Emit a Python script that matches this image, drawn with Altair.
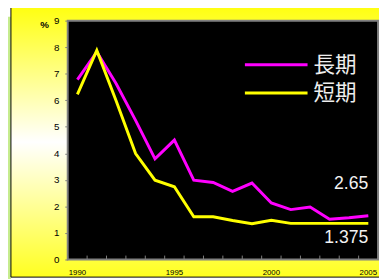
import altair as alt
import pandas as pd

years = list(range(1990, 2006))
long_rate = [6.78, 7.82, 6.62, 5.24, 3.79, 4.50, 2.99, 2.90, 2.57, 2.88, 2.13, 1.88, 1.98, 1.52, 1.57, 1.65]
short_rate = [6.22, 7.88, 5.97, 3.99, 2.99, 2.74, 1.61, 1.61, 1.47, 1.35, 1.48, 1.36, 1.36, 1.36, 1.36, 1.36]
series_names = ["長期", "短期"]
series_colors = ["#ff00ff", "#ffff00"]
y_ticks = list(range(0, 10))
x_label_years = [1990, 1995, 2000, 2005]
ann_text = ["2.65", "1.375"]
ann_year = [2005, 2005]
ann_y = [2.84, 0.81]

W, H = 317, 244

df = pd.DataFrame({
    "year": years * 2,
    "rate": long_rate + short_rate,
    "series": [series_names[0]] * len(years) + [series_names[1]] * len(years),
})
years_df = pd.DataFrame({"year": years})
ann_df = pd.DataFrame({"year": ann_year, "ypos": ann_y, "label": ann_text})
one = pd.DataFrame({"a": [0]})

x_scale = alt.Scale(type="band", domain=years, paddingInner=0, paddingOuter=0)
y_scale = alt.Scale(domain=[0, 9], nice=False, zero=True)

x_axis = alt.Axis(values=x_label_years, title=None, labelAngle=0, labelFontSize=8,
                  labelFont="Liberation Sans", labelColor="black", domain=False, ticks=False,
                  labelPadding=9, zindex=1, grid=False, labelOverlap=False)
y_axis = alt.Axis(values=y_ticks, tickCount=10, title="%", titleAngle=0, titleX=-24, titleY=4,
                  titleAlign="center", titleBaseline="middle", titleFontSize=10,
                  titleFont="Liberation Sans", titleFontWeight="bold", titleColor="black",
                  labelFontSize=10, labelFont="Liberation Sans", labelColor="black",
                  domain=False, tickSize=3, tickColor="#808080", labelPadding=6,
                  zindex=1, grid=False, labelOverlap=False, labelBound=False,
                  labelFlush=False)

gradient = alt.LinearGradient(
    gradient="linear",
    stops=[alt.GradientStop(color="#ffff10", offset=0),
           alt.GradientStop(color="#ffffff", offset=0.5),
           alt.GradientStop(color="#ffff20", offset=1)],
    x1=0, x2=0, y1=0, y2=1,
)

green = alt.Chart(one).mark_rect(fill="#c6ec8e").encode(
    x=alt.value(-61), x2=alt.value(-58), y=alt.value(-4), y2=alt.value(300))
panel = alt.Chart(one).mark_rect(fill=gradient, stroke="black", strokeWidth=1).encode(
    x=alt.value(-58), x2=alt.value(340), y=alt.value(-14), y2=alt.value(262))
plotbg = alt.Chart(one).mark_rect(fill="black", stroke="#808080", strokeWidth=2).encode(
    x=alt.value(0), x2=alt.value(W), y=alt.value(0), y2=alt.value(H))
xticks = alt.Chart(years_df).mark_rule(color="#808080", strokeWidth=1).encode(
    x=alt.X("year:O", bandPosition=0, scale=x_scale, axis=x_axis),
    y=alt.value(H - 4), y2=alt.value(H))
lines = alt.Chart(df).mark_line(strokeWidth=3).encode(
    x=alt.X("year:O", bandPosition=0.5, scale=x_scale, axis=x_axis),
    y=alt.Y("rate:Q", scale=y_scale, axis=y_axis),
    color=alt.Color("series:N", sort=series_names,
                    scale=alt.Scale(domain=series_names, range=series_colors),
                    legend=alt.Legend(orient="none", legendX=226, legendY=34, title=None,
                                      symbolType="M-7,0L1,0", symbolSize=256,
                                      symbolStrokeWidth=3, labelFontSize=22,
                                      labelFont="Noto Sans CJK JP", labelColor="#eeeeee",
                                      labelOffset=3, rowPadding=7, padding=0)),
    order=alt.Order("year:Q"),
)
ann = alt.Chart(ann_df).mark_text(align="right", baseline="middle", fontSize=18,
                                  font="Liberation Sans", color="#f2f2f2").encode(
    x=alt.X("year:O", bandPosition=0.5, scale=x_scale, axis=x_axis),
    y=alt.Y("ypos:Q", scale=y_scale, axis=y_axis),
    text="label:N")

chart = alt.layer(green, panel, plotbg, xticks, lines, ann).properties(
    width=W, height=H,
    autosize=alt.AutoSizeParams(type="none"),
    padding={"left": 61, "top": 10, "right": 1, "bottom": 17},
    background="white",
).configure_view(stroke="transparent", fill="transparent")

chart.save("out.html", embed_options={"renderer": "svg", "actions": False})
